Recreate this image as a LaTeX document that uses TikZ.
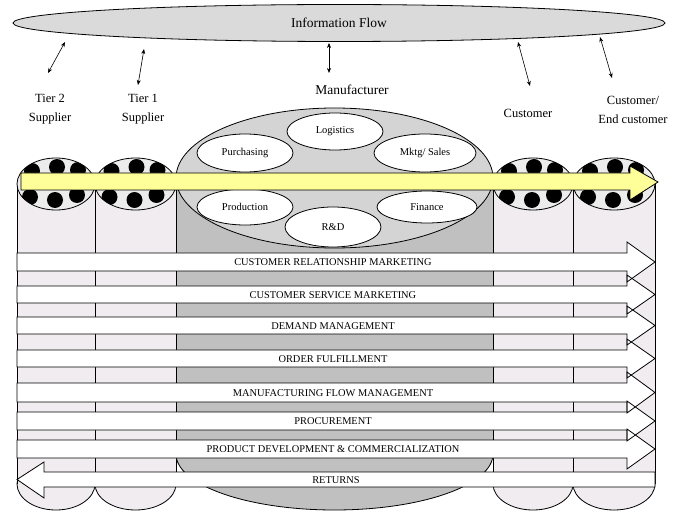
\documentclass[tikz,border=0pt]{standalone}
\usepackage{fontspec}
\setmainfont{Liberation Serif}
\usetikzlibrary{positioning,calc,shapes.geometric,arrows.meta}

\definecolor{colfill}{RGB}{240,236,240}
\definecolor{capfill}{RGB}{236,236,236}
\definecolor{mangray}{RGB}{192,192,192}
\definecolor{mantop}{RGB}{212,212,212}
\definecolor{infofill}{RGB}{218,218,218}
\definecolor{flowyellow}{RGB}{255,255,153}

\tikzset{
  outline/.style={draw=black, line width=0.8pt},
  flowarrow/.style={{Stealth[length=5pt,width=4pt]}-{Stealth[length=5pt,width=4pt]}, line width=0.6pt},
  toplabel/.style={font=\fontsize{12.5}{19}\selectfont, align=center, inner sep=0pt},
  dept/.style={ellipse, draw=black, line width=0.8pt, fill=white, inner sep=0pt,
    font=\fontsize{10.5}{12}\selectfont},
  bandlabel/.style={font=\fontsize{10.4}{12}\selectfont, inner sep=0pt}
}

\begin{document}
\begin{tikzpicture}[x=1pt,y=-1pt]
    \useasboundingbox (0,0) rectangle (678,513);

      % Information flow
      \node[ellipse, outline, fill=infofill, minimum width=652, minimum height=37,
        inner sep=0pt, font=\fontsize{13.5}{15}\selectfont] (info) at (339,23) {Information Flow};

      % Members
      \node[toplabel] (tiertwo) at (50,109.5) {Tier 2\\Supplier};
      \node[toplabel] (tierone) at (143,109.5) {Tier 1\\Supplier};
      \node[toplabel, font=\fontsize{13.5}{15}\selectfont] (manu) at (352,90) {Manufacturer};
      \node[toplabel] (cust) at (528,113) {Customer};
      \node[toplabel] (endcust) at (633,109.5) {Customer/\\End customer};

      % Links to the information flow
      \coordinate (tiertwo up) at (65,42);  \coordinate (tiertwo down) at (48,73);
      \coordinate (tierone up) at (144,49); \coordinate (tierone down) at (138,85);
      \coordinate (manu up) at (329,43);    \coordinate (manu down) at (329,73);
      \coordinate (cust up) at (518,42);    \coordinate (cust down) at (530,86);
      \coordinate (endcust up) at (600,37); \coordinate (endcust down) at (612,78);
      \foreach \m in {tiertwo, tierone, manu, cust, endcust}
      \draw[flowarrow] (\m\space up) -- (\m\space down);

      % Supplier and customer columns
      \foreach \cx/\rx in {56/39, 135.5/40.5, 533/40, 614/41} {
      \draw[outline, fill=colfill] (\cx,484) ellipse [x radius=\rx, y radius=26];
      \fill[colfill] (\cx-\rx,184) rectangle (\cx+\rx,484);
      \draw[outline] (\cx-\rx,184) -- (\cx-\rx,484) (\cx+\rx,184) -- (\cx+\rx,484);
      \fill[capfill] (\cx,184) ellipse [x radius=\rx, y radius=26];
      \begin{scope}
        \clip (\cx,184) ellipse [x radius=\rx, y radius=26];
        \foreach \dx/\dy in {-24/-13, 1/-17, 22/-14, -26/13, -1/16, 21/11}
        \fill[black] (\cx+\dx,184+\dy) circle [radius=8];
      \end{scope}
      \draw[outline] (\cx,184) ellipse [x radius=\rx, y radius=26];
      }

      % Manufacturer
      \draw[outline, fill=mangray] (334.5,454) ellipse [x radius=158.5, y radius=56];
      \fill[mangray] (176,178) rectangle (493,454);
      \draw[outline] (176,178) -- (176,454) (493,178) -- (493,454);
      \draw[outline, fill=mantop] (334.5,178) ellipse [x radius=158.5, y radius=70];

      \node[dept, minimum width=96, minimum height=37] (logistics) at (335,131.5) {Logistics};
      \node[dept, minimum width=96, minimum height=38] (purchasing) at (245,153) {Purchasing};
      \node[dept, minimum width=102, minimum height=38] (sales) at (425,153) {Mktg/ Sales};
      \node[dept, minimum width=96, minimum height=36] (production) at (245,207) {Production};
      \node[dept, minimum width=100, minimum height=32] (finance) at (427,207) {Finance};
      \node[dept, minimum width=96, minimum height=40] (rnd) at (333,227) {R\&D};

      % Product flow
      \draw[outline, fill=flowyellow] (21,173) -- (630,173) -- (630,166) -- (658,182)
        -- (630,200) -- (630,190) -- (21,190) -- cycle;

      % Processes
      \foreach \t/\b in {253/271, 286/303, 317/334, 350/367, 383/402, 412/430, 440/458}
      \fill[white] (17,\t) -- (627,\t) -- (627,\t-11) -- (655,{(\t+\b)/2})
        -- (627,\b+11) -- (627,\b) -- (17,\b) -- cycle;
      \foreach \t/\b in {253/271, 286/303, 317/334, 350/367, 383/402, 412/430, 440/458}
      \draw[outline] (17,\t) -- (627,\t) -- (627,\t-11) -- (655,{(\t+\b)/2})
        -- (627,\b+11) -- (627,\b) -- (17,\b) -- cycle;
      \draw[outline, fill=white] (655,472) -- (44,472) -- (44,462) -- (17,479.5)
        -- (44,498) -- (44,487) -- (655,487) -- cycle;

      \node[bandlabel] (crm) at (333,262.5) {CUSTOMER RELATIONSHIP MARKETING};
      \node[bandlabel] (csm) at (333,295) {CUSTOMER SERVICE MARKETING};
      \node[bandlabel] (dm) at (333,326) {DEMAND MANAGEMENT};
      \node[bandlabel] (of) at (333,359) {ORDER FULFILLMENT};
      \node[bandlabel] (mfm) at (333,393) {MANUFACTURING FLOW MANAGEMENT};
      \node[bandlabel] (proc) at (333,421.5) {PROCUREMENT};
      \node[bandlabel] (pdc) at (333,449.5) {PRODUCT DEVELOPMENT \& COMMERCIALIZATION};
      \node[bandlabel] (ret) at (336,480) {RETURNS};
  \end{tikzpicture}
\end{document}
